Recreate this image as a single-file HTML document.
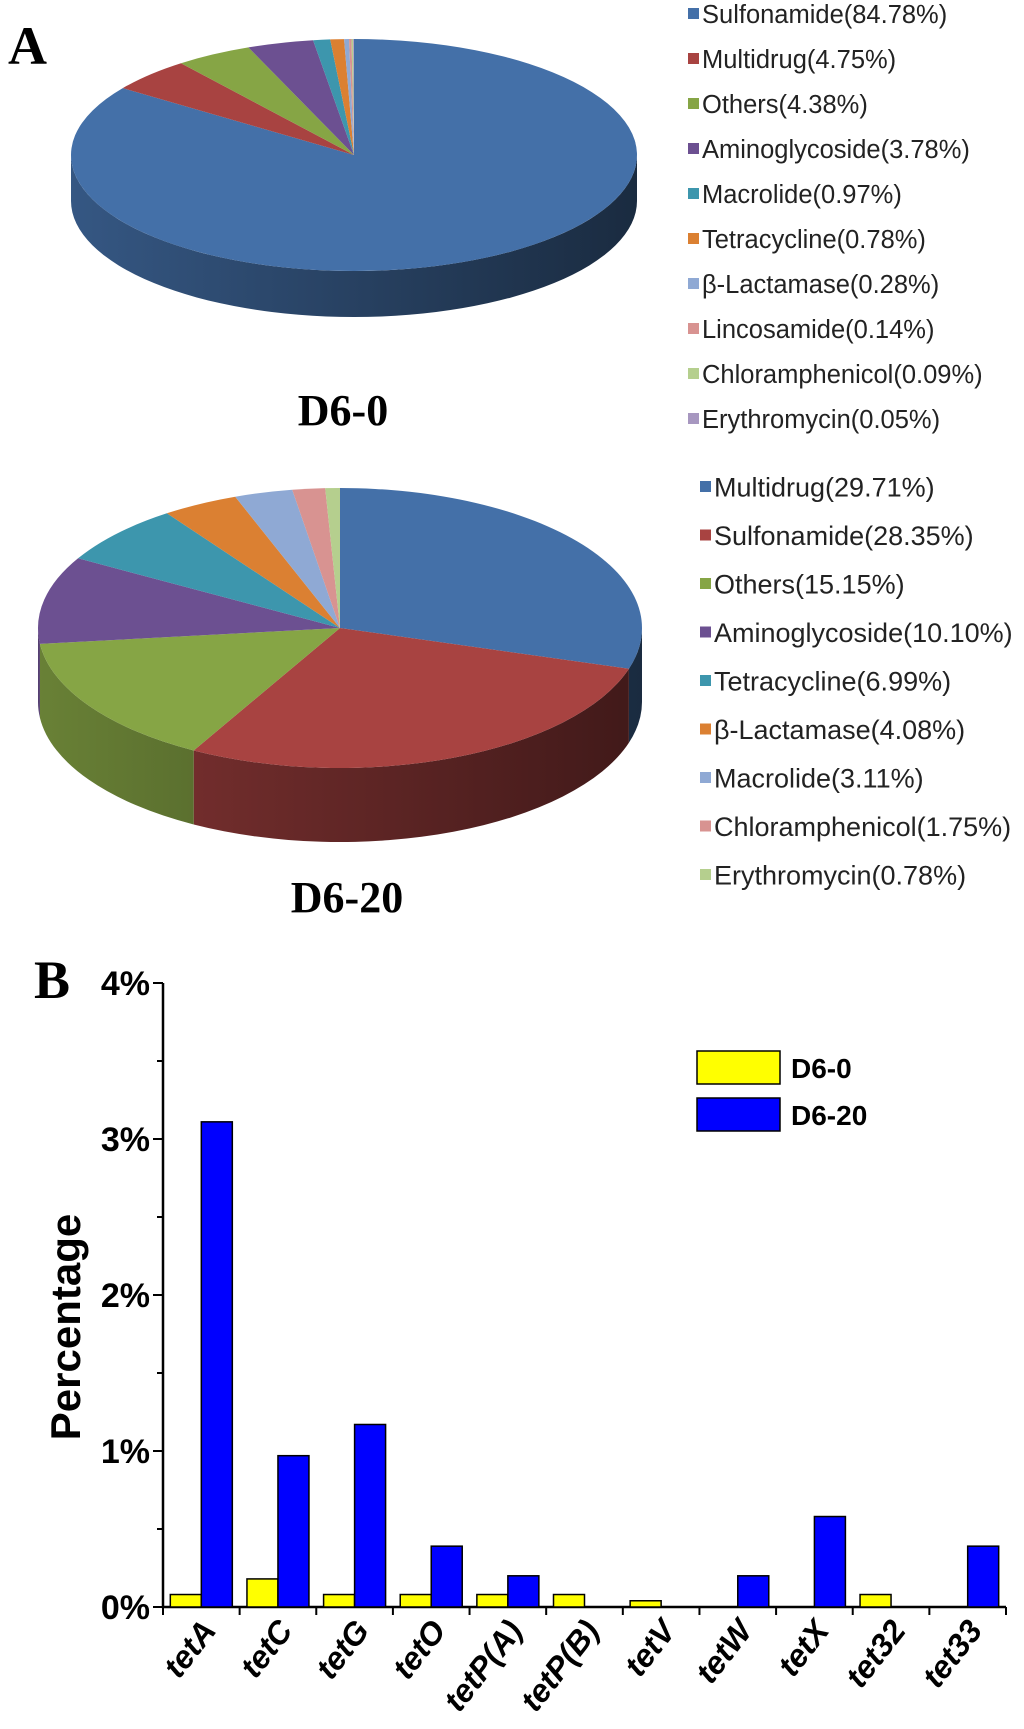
<!DOCTYPE html>
<html><head><meta charset="utf-8"><style>
html,body{margin:0;padding:0;background:#fff;}
svg{display:block;}
</style></head><body>
<svg id="fig" width="1024" height="1729" viewBox="0 0 1024 1729" xmlns="http://www.w3.org/2000/svg">
<defs id="defs"></defs>
<text x="8" y="64" font-family="Liberation Serif, serif" font-weight="bold" font-size="54">A</text>
<text x="34" y="998" font-family="Liberation Serif, serif" font-weight="bold" font-size="54">B</text>
<g id="pie1"></g>
<g id="pie2"></g>
<text x="343" y="425" text-anchor="middle" font-family="Liberation Serif, serif" font-weight="bold" font-size="44">D6-0</text>
<text x="347" y="912" text-anchor="middle" font-family="Liberation Serif, serif" font-weight="bold" font-size="44">D6-20</text>
<g id="leg1"></g>
<g id="leg2"></g>
<g id="bars"></g>
</svg>
<script>
const pie1Labels=["Sulfonamide","Multidrug","Others","Aminoglycoside","Macrolide","Tetracycline","β-Lactamase","Lincosamide","Chloramphenicol","Erythromycin"];
const pie1Values=[84.78,4.75,4.38,3.78,0.97,0.78,0.28,0.14,0.09,0.05];
const pie1Colors=["#4470a8","#a84341","#86a545","#6c5091","#3d96ad","#db8032","#8fa9d4","#d89391","#b5cf8e","#a797c0"];
const pie2Labels=["Multidrug","Sulfonamide","Others","Aminoglycoside","Tetracycline","β-Lactamase","Macrolide","Chloramphenicol","Erythromycin"];
const pie2Values=[29.71,28.35,15.15,10.10,6.99,4.08,3.11,1.75,0.78];
const pie2Colors=["#4470a8","#a84341","#86a545","#6c5091","#3d96ad","#db8032","#8fa9d4","#d89391","#b5cf8e"];

const categories=["tetA","tetC","tetG","tetO","tetP(A)","tetP(B)","tetV","tetW","tetX","tet32","tet33"];
const d60Values=[0.08,0.18,0.08,0.08,0.08,0.08,0.04,0,0,0.08,0];
const d620Values=[3.11,0.97,1.17,0.39,0.20,0,0,0.20,0.58,0,0.39];
const yTicks=[0,1,2,3,4];
const yTickLabels=["0%","1%","2%","3%","4%"];

const NS="http://www.w3.org/2000/svg";
function mk(tag,attrs,parent){const e=document.createElementNS(NS,tag);for(const k in attrs)e.setAttribute(k,attrs[k]);if(parent)parent.appendChild(e);return e;}
function shade(hex,f){const n=parseInt(hex.slice(1),16);let r=(n>>16)&255,g=(n>>8)&255,b=n&255;return `rgb(${Math.round(r*f)},${Math.round(g*f)},${Math.round(b*f)})`;}
const defs=document.getElementById('defs');

function drawPie(gid,values,colors,labels,cx,cy,rx,ry,depth){
  const g=document.getElementById(gid);
  const tot=values.reduce((a,b)=>a+b,0);
  let a=-Math.PI/2;
  const pt=(t,dy)=>[cx+rx*Math.cos(t),cy+ry*Math.sin(t)+(dy||0)];
  const sl=[];
  values.forEach((v,i)=>{const a1=a+v/tot*2*Math.PI;sl.push([a,a1]);a=a1;});
  sl.forEach(([a0,a1],i)=>{
    const s=Math.max(a0,0),e=Math.min(a1,Math.PI);
    if(s>=e)return;
    const gidN=gid+'g'+i;
    const lg=mk('linearGradient',{id:gidN,gradientUnits:'userSpaceOnUse',x1:cx-rx,y1:0,x2:cx+rx,y2:0},defs);
    mk('stop',{offset:'0','stop-color':shade(colors[i],0.78)},lg);
    mk('stop',{offset:'1','stop-color':shade(colors[i],0.38)},lg);
    const p0=pt(s),p1=pt(e),q1=pt(e,depth),q0=pt(s,depth);
    const side=mk('path',{d:`M${p0[0]},${p0[1]} A${rx},${ry} 0 0 1 ${p1[0]},${p1[1]} L${q1[0]},${q1[1]} A${rx},${ry} 0 0 0 ${q0[0]},${q0[1]} Z`,fill:`url(#${gidN})`},g);
    
    
  });
  sl.forEach(([a0,a1],i)=>{
    const p0=pt(a0),p1=pt(a1);const large=(a1-a0)>Math.PI?1:0;
    const p=mk('path',{d:`M${cx},${cy} L${p0[0]},${p0[1]} A${rx},${ry} 0 ${large} 1 ${p1[0]},${p1[1]} Z`,fill:colors[i]},g);
    
    
  });
}
drawPie('pie1',pie1Values,pie1Colors,pie1Labels,354,155,283,116,46);
drawPie('pie2',pie2Values,pie2Colors,pie2Labels,340,628,302,140,74);

function drawLegend(gid,labels,values,colors,x,y0,step,fs){
  const g=document.getElementById(gid);
  labels.forEach((l,i)=>{
    const y=y0+i*step;
    const r=mk('rect',{x:x,y:y-6,width:11,height:11,fill:colors[i]},g);
    
    
    const t=mk('text',{x:x+14,y:y+fs*0.36,'font-family':'Liberation Sans, sans-serif','font-size':fs,fill:'#222'},g);
    t.textContent=l+'('+values[i].toFixed(2)+'%)';
    
    
  });
}
drawLegend('leg1',pie1Labels,pie1Values,pie1Colors,688,14,45,25.5);
drawLegend('leg2',pie2Labels,pie2Values,pie2Colors,700,487,48.5,27);

const bg=document.getElementById('bars');
const X0=163,X1=1006,Y0=1607,PER=156;
const gw=(X1-X0)/categories.length;
const yS=v=>Y0-v*PER;
const xS=i=>X0+gw*(i+0.5);
const ax=mk('path',{d:`M${X0},${yS(4)} L${X0},${Y0} L${X1},${Y0}`,stroke:'#000','stroke-width':2.5,fill:'none'},bg);

for(let v=0;v<=4;v+=0.5){
  const major=Number.isInteger(v);
  mk('line',{x1:X0-(major?10:6),x2:X0,y1:yS(v),y2:yS(v),stroke:'#000','stroke-width':2},bg);
}
yTicks.forEach((v,i)=>{
  const t=mk('text',{x:150,y:yS(v)+12,'text-anchor':'end','font-family':'Liberation Sans, sans-serif','font-weight':'bold','font-size':34},bg);
  t.textContent=yTickLabels[i];
  
  
});
for(let i=0;i<=categories.length;i++){
  mk('line',{x1:X0+gw*i,x2:X0+gw*i,y1:Y0,y2:Y0+8,stroke:'#000','stroke-width':2},bg);
}
const yl=mk('text',{x:0,y:0,transform:'translate(80,1327) rotate(-90)','text-anchor':'middle','font-family':'Liberation Sans, sans-serif','font-weight':'bold','font-size':42},bg);
yl.textContent='Percentage';

categories.forEach((c,i)=>{
  const cx=xS(i);
  if(d60Values[i]>0){
    const r=mk('rect',{x:cx-31,y:yS(d60Values[i]),width:31,height:Y0-yS(d60Values[i]),fill:'#ffff00',stroke:'#000','stroke-width':1.5},bg);
    
  }
  if(d620Values[i]>0){
    const r=mk('rect',{x:cx,y:yS(d620Values[i]),width:31,height:Y0-yS(d620Values[i]),fill:'#0000ff',stroke:'#000','stroke-width':1.5},bg);
    
  }
  const t=mk('text',{x:0,y:0,transform:`translate(${cx+16},${Y0+24}) rotate(-52)`,'text-anchor':'end','font-family':'Liberation Sans, sans-serif','font-weight':'bold','font-style':'italic','font-size':32},bg);
  t.textContent=c;
  
});
const l1=mk('rect',{x:697,y:1051,width:83,height:33,fill:'#ffff00',stroke:'#000','stroke-width':1.5},bg);

const l2=mk('rect',{x:697,y:1098,width:83,height:33,fill:'#0000ff',stroke:'#000','stroke-width':1.5},bg);

const lt1=mk('text',{x:791,y:1078,'font-family':'Liberation Sans, sans-serif','font-weight':'bold','font-size':28},bg);
lt1.textContent='D6-0';
const lt2=mk('text',{x:791,y:1125,'font-family':'Liberation Sans, sans-serif','font-weight':'bold','font-size':28},bg);
lt2.textContent='D6-20';
</script>
</body></html>
